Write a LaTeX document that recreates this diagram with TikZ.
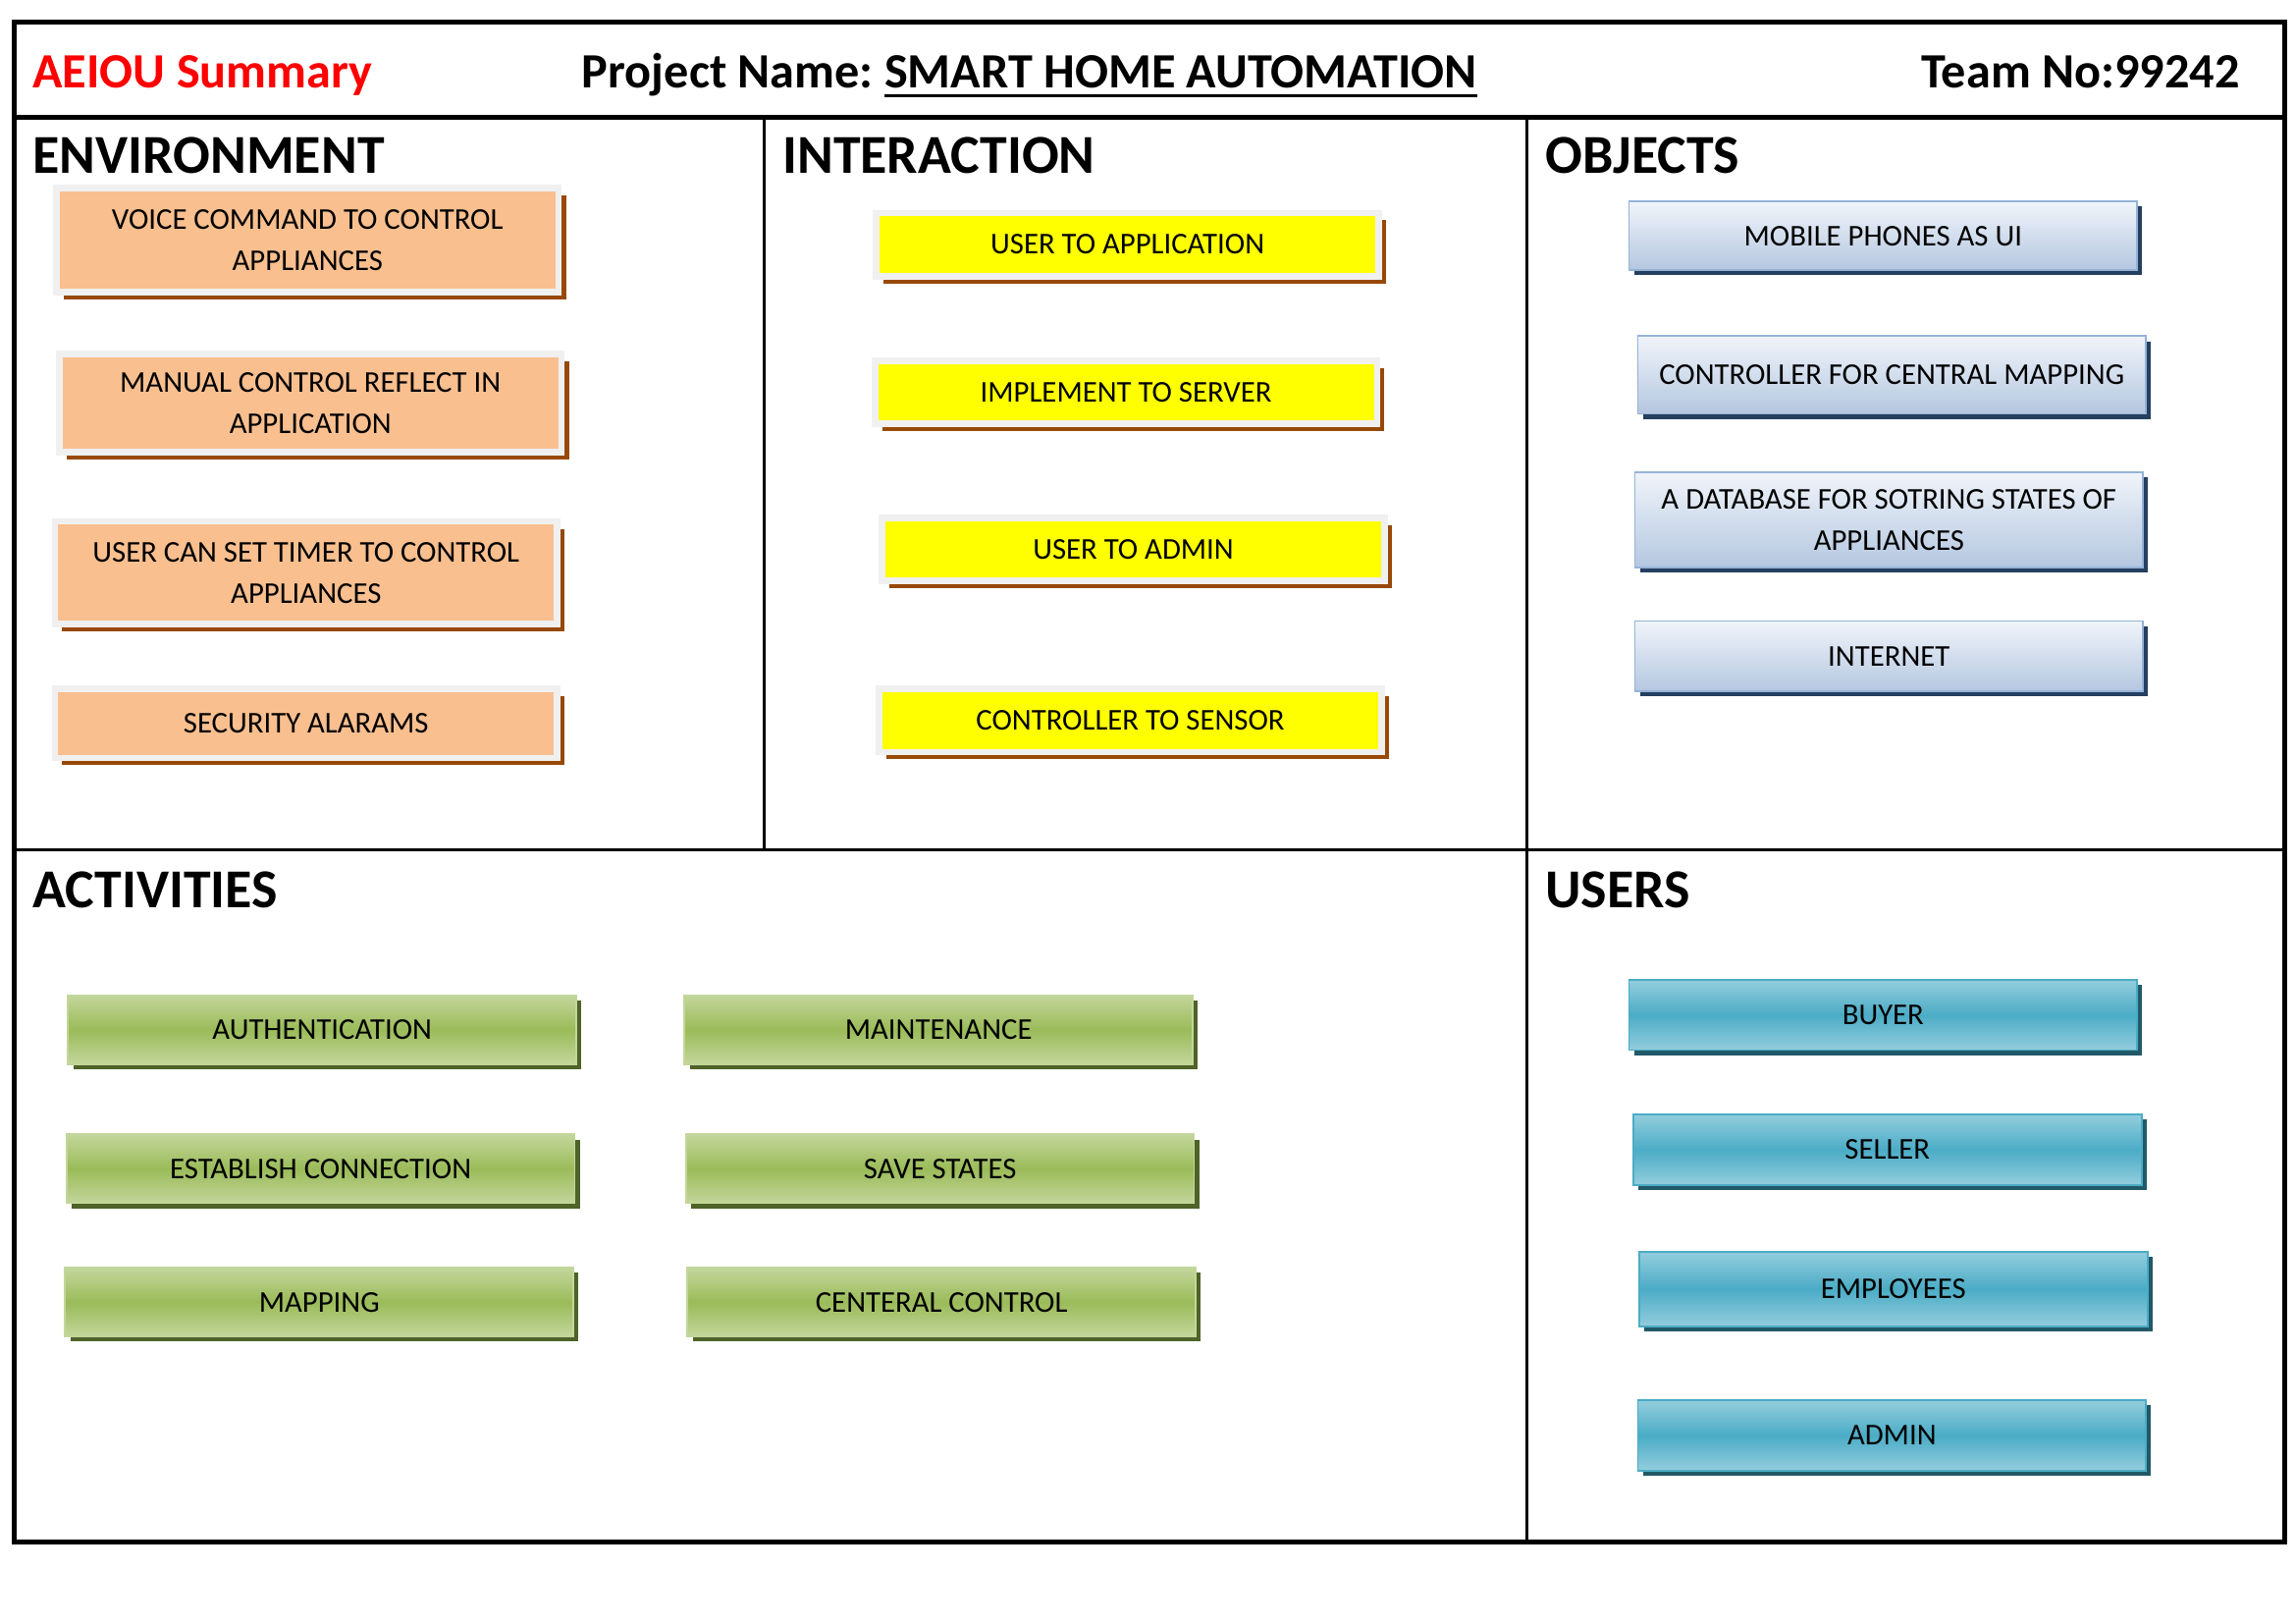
\documentclass[tikz,border=0pt]{standalone}
\usepackage{fontspec}
\setmainfont{Carlito}
\usetikzlibrary{
	positioning,
	shadows
}
\newcommand\projul[1]{\setbox0\hbox{#1}\rlap{\rule[-2.8pt]{\wd0}{0.9pt}}\box0}
\definecolor{envfill}{HTML}{F9BF8F}
\definecolor{envshade}{HTML}{984807}
\definecolor{rim}{HTML}{F0F0F0}
\definecolor{objtop}{HTML}{F0F4FA}
\definecolor{objbot}{HTML}{B4C7E0}
\definecolor{objrim}{HTML}{95B3D7}
\definecolor{objshade}{HTML}{243F60}
\definecolor{actmid}{HTML}{9BBB59}
\definecolor{actout}{HTML}{C3D69B}
\definecolor{actshade}{HTML}{4F6228}
\definecolor{usrmid}{HTML}{4BACC6}
\definecolor{usrout}{HTML}{93CDDD}
\definecolor{usrshade}{HTML}{215968}
\definecolor{intfill}{HTML}{FFFF00}
\newlength\boxU
\boxU=0.14917mm
\tikzset{
	AEIOU-Head/.style={anchor=base west,inner sep=0pt,font=\bfseries\fontsize{15.9}{19}\selectfont},
	AEIOU-Top/.style={anchor=base,inner sep=0pt,font=\bfseries\fontsize{14.3}{17}\selectfont},
	AEIOU-Box/.style={rectangle,align=center,inner sep=0pt,minimum width=343*\boxU,
		font=\fontsize{8.75}{11.9}\selectfont},
	Env-Box/.style={AEIOU-Box,fill=#1,draw=rim,line width=4.5*\boxU,
		drop shadow={fill=envshade,opacity=1,shadow xshift=5*\boxU,shadow yshift=-5*\boxU}},
	Obj-Box/.style={AEIOU-Box,minimum width=347*\boxU,draw=objrim,line width=1.2*\boxU,
		top color=objtop,bottom color=objbot,
		drop shadow={fill=objshade,opacity=1,shadow xshift=3.5*\boxU,shadow yshift=-3.5*\boxU}},
	Act-Box/.style={AEIOU-Box,minimum width=347*\boxU,minimum height=47*\boxU,draw=actout,line width=1.2*\boxU,
		top color=actout,bottom color=actout,middle color=actmid,
		drop shadow={fill=actshade,opacity=1,shadow xshift=3.5*\boxU,shadow yshift=-3.5*\boxU}},
	Usr-Box/.style={AEIOU-Box,minimum width=347*\boxU,draw=usrmid,line width=1.2*\boxU,
		top color=usrout,bottom color=usrout,middle color=usrmid,
		drop shadow={fill=usrshade,opacity=1,shadow xshift=3.5*\boxU,shadow yshift=-3.5*\boxU}}
}

\begin{document}
\begin{tikzpicture}[x=0.14917mm,y=-0.14917mm]
	\useasboundingbox[fill=white] (0,0) rectangle (1568,1108.8);
	% frame of the sheet
	\draw[line width=1.4pt] (10,15) rectangle (1560,1053);
	\draw[line width=1.3pt] (10,80) -- (1560,80);
	\draw[line width=0.9pt] (522,80) -- (522,580);
	\draw[line width=0.9pt] (1043,80) -- (1043,1053);
	\draw[line width=0.9pt] (10,580) -- (1560,580);
	% title row
	\node[AEIOU-Top,anchor=base west,text=red] (title) at (22,60) {AEIOU Summary};
	\node[AEIOU-Top,anchor=base west] (proj) at (397,60) {Project Name:~\projul{SMART HOME AUTOMATION}};
	\node[AEIOU-Top,anchor=base east] (team) at (1530,60) {Team No:99242};
	% section names
	\node[AEIOU-Head] (env) at (22,118) {ENVIRONMENT};
	\node[AEIOU-Head] (int) at (534,118) {INTERACTION};
	\node[AEIOU-Head] (obj) at (1055,118) {OBJECTS};
	\node[AEIOU-Head] (act) at (22,620) {ACTIVITIES};
	\node[AEIOU-Head] (usr) at (1055,620) {USERS};
	% Environment
	\foreach \n/\x/\y/\h/\t in {
		1/210/164/71/{VOICE COMMAND TO CONTROL\\APPLIANCES},
		2/212/275/67/{MANUAL CONTROL REFLECT IN\\APPLICATION},
		3/209/391/70/{USER CAN SET TIMER TO CONTROL\\APPLIANCES},
		4/209/494/47/{SECURITY ALARAMS}}
		\node[Env-Box=envfill,minimum height=\h*\boxU] (env-\n) at (\x,\y) {\t};
	% Interaction
	\foreach \n/\x/\y/\t in {
		1/770/167/USER TO APPLICATION,
		2/769/268/IMPLEMENT TO SERVER,
		3/774/375/USER TO ADMIN,
		4/772/492/CONTROLLER TO SENSOR}
		\node[Env-Box=intfill,minimum height=43*\boxU] (int-\n) at (\x,\y) {\t};
	% Objects
	\foreach \n/\x/\y/\h/\t in {
		1/1286/161/47/{MOBILE PHONES AS UI},
		2/1292/256/53/{CONTROLLER FOR CENTRAL MAPPING},
		3/1290/355/65/{A DATABASE FOR SOTRING STATES OF\\APPLIANCES},
		4/1290/448/48/{INTERNET}}
		\node[Obj-Box,minimum height=\h*\boxU] (obj-\n) at (\x,\y) {\t};
	% Activities
	\foreach \n/\x/\y/\t in {
		1/220/703/AUTHENTICATION,
		2/219/798/ESTABLISH CONNECTION,
		3/218/889/MAPPING,
		4/641/703/MAINTENANCE,
		5/642/798/SAVE STATES,
		6/643/889/CENTERAL CONTROL}
		\node[Act-Box] (act-\n) at (\x,\y) {\t};
	% Users
	\foreach \n/\x/\y/\h/\t in {
		1/1286/693/48/BUYER,
		2/1289/785/48/SELLER,
		3/1293/880/51/EMPLOYEES,
		4/1292/980/48/ADMIN}
		\node[Usr-Box,minimum height=\h*\boxU] (usr-\n) at (\x,\y) {\t};
\end{tikzpicture}
\end{document}
